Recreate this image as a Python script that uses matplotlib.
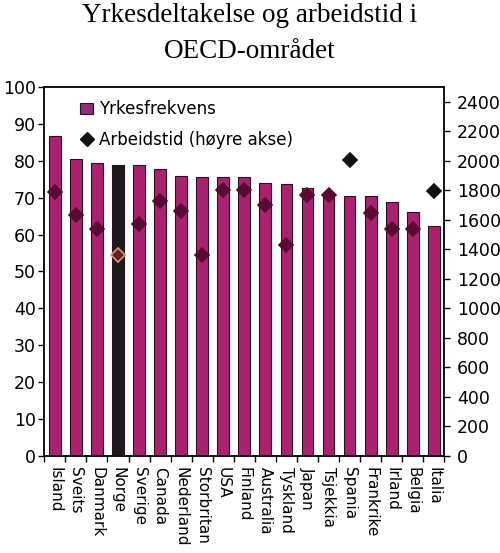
import matplotlib
matplotlib.use("Agg")
import matplotlib.pyplot as plt
from matplotlib.lines import Line2D
from matplotlib.patches import Patch
import numpy as np

countries = ["Island", "Sveits", "Danmark", "Norge", "Sverige", "Canada", "Nederland",
             "Storbritan", "USA", "Finland", "Australia", "Tyskland", "Japan", "Tsjekkia",
             "Spania", "Frankrike", "Irland", "Belgia", "Italia"]
yrkesfrekvens = [86.8, 80.6, 79.3, 78.9, 78.9, 77.9, 76.0, 75.7, 75.6, 75.6,
                 74.0, 73.6, 72.7, 71.1, 70.4, 70.4, 68.9, 66.1, 62.4]
arbeidstid = [1790, 1630, 1540, 1360, 1575, 1730, 1660, 1360, 1805, 1805,
              1700, 1430, 1768, 1768, 2005, 1645, 1535, 1535, 1795]

BAR = "#ab2170"
EDGE = "#2a1020"
HIGHLIGHT = "Norge"

fig = plt.figure(figsize=(5.0, 5.53), dpi=100)
ax = fig.add_axes([0.0886, 0.1754, 0.80, 0.6673])
ax2 = ax.twinx()

x = np.arange(len(countries))
colors = ["#1c1a1c" if c == HIGHLIGHT else BAR for c in countries]
ax.bar(x, yrkesfrekvens, width=0.56, color=colors, edgecolor=EDGE, linewidth=0.8, zorder=2)

ymax2 = 2500
for i, (c, h, r) in enumerate(zip(countries, arbeidstid, yrkesfrekvens)):
    if c == HIGHLIGHT:
        fc, ec = "#6a1a2a", "#c8a060"
    elif h / ymax2 * 100 < r:
        fc, ec = "#5a0a30", "#5a0a30"
    else:
        fc, ec = "#111111", "#111111"
    ax2.plot(i, h, marker="D", markersize=7, markerfacecolor=fc, markeredgecolor=ec,
             markeredgewidth=1.2, linestyle="none", zorder=3)

ax.set_xlim(-0.5, len(countries) - 0.5)
ax.set_ylim(0, 100)
ax2.set_ylim(0, ymax2)
ax.set_yticks(range(0, 101, 10))
ax2.set_yticks(range(0, 2401, 200))

font = "DejaVu Sans"
ax.set_xticks(x)
ax.set_xticklabels(countries, rotation=-90, fontsize=11, family=font, va="top", ha="center")
ax.tick_params(axis="x", length=0, pad=8)
ax.set_xticks(np.arange(-0.5, len(countries), 1), minor=True)
ax.tick_params(axis="x", which="minor", length=4, direction="out", width=1)
ax.tick_params(axis="y", labelsize=12.5, length=4, direction="out", width=1, pad=2)
ax2.tick_params(axis="y", labelsize=12.5, length=4, direction="out", width=1, pad=5)
for lab in ax.get_yticklabels() + ax2.get_yticklabels():
    lab.set_family(font)

for a in (ax, ax2):
    for s in a.spines.values():
        s.set_linewidth(1.2)
        s.set_color("#111111")

handles = [Patch(facecolor="#8a2f78", edgecolor=EDGE, linewidth=0.8),
           Line2D([], [], marker="D", color="#111111", linestyle="none", markersize=7)]
ax.legend(handles, ["Yrkesfrekvens", "Arbeidstid (høyre akse)"], loc="upper left",
          bbox_to_anchor=(0.06, 0.995), frameon=False, prop={"family": font, "size": 12},
          handlelength=0.8, handletextpad=0.35, labelspacing=0.75, borderpad=0.2)

fig.text(0.5, 0.994, "Yrkesdeltakelse og arbeidstid i\nOECD-området", ha="center", va="top",
         family="Liberation Serif", fontsize=19.5, linespacing=1.55)

fig.savefig("out.png", dpi=100)
